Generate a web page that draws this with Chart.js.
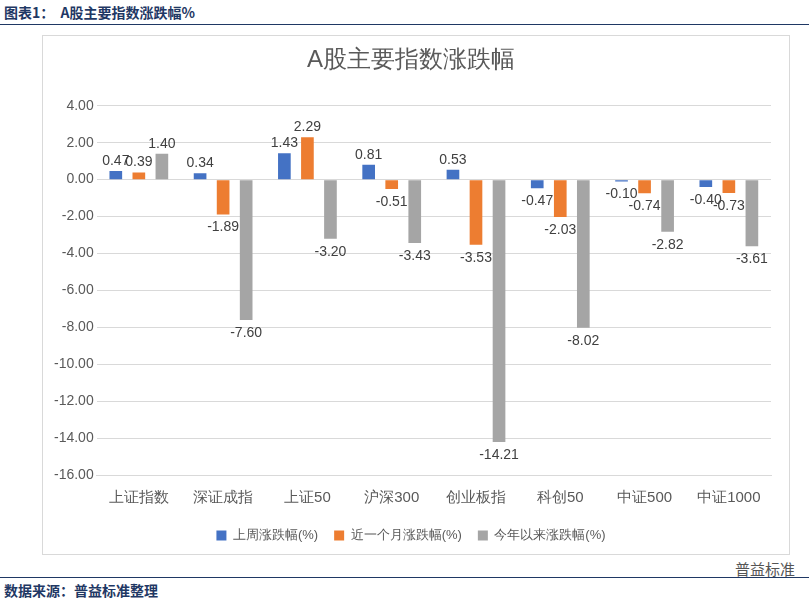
<!DOCTYPE html>
<html>
<head>
<meta charset="utf-8">
<script src="https://cdn.jsdelivr.net/npm/chart.js@4"></script>
<style>
  body { margin: 0; width: 809px; height: 606px; background: #fff; font-family: "Noto Sans CJK SC", sans-serif; position: relative; overflow: hidden; }
  #title { position: absolute; left: 4px; top: 2px; font-size: 14px; font-weight: bold; color: #1f3864; }
  #topline { position: absolute; left: 0; top: 24px; width: 809px; border-top: 1px solid #1f3864; }
  #box { position: absolute; left: 42px; top: 35px; width: 746px; height: 518px; border: 1px solid #d9d9d9; }
  #bottomline { position: absolute; left: 0; top: 577px; width: 809px; border-top: 1px solid #1f3864; }
  #source { position: absolute; left: 4px; top: 580px; font-size: 14px; font-weight: bold; color: #1f3864; }
  #mark { position: absolute; right: 14px; top: 558px; font-size: 15px; color: #555; }
</style>
</head>
<body>
<div id="title">图表1：&nbsp; A股主要指数涨跌幅%</div>
<div id="topline"></div>
<div id="box"><canvas id="c" width="746" height="518"></canvas></div>
<div id="bottomline"></div>
<div id="source">数据来源：普益标准整理</div>
<div id="mark">普益标准</div>
<script>
// Data
const categories = ['上证指数', '深证成指', '上证50', '沪深300', '创业板指', '科创50', '中证500', '中证1000'];
const weekly = [0.47, 0.34, 1.43, 0.81, 0.53, -0.47, -0.10, -0.40];
const monthly = [0.39, -1.89, 2.29, -0.51, -3.53, -2.03, -0.74, -0.73];
const ytd = [1.40, -7.60, -3.20, -3.43, -14.21, -8.02, -2.82, -3.61];
const seriesNames = ['上周涨跌幅(%)', '近一个月涨跌幅(%)', '今年以来涨跌幅(%)'];
const colors = ['#4472C4', '#ED7D31', '#A5A5A5'];

// Draw value labels beyond bar ends
const valueLabels = {
  id: 'valueLabels',
  afterDatasetsDraw(chart) {
    const ctx = chart.ctx;
    ctx.save();
    ctx.font = '14px "Liberation Sans", sans-serif';
    ctx.fillStyle = '#404040';
    ctx.textAlign = 'center';
    chart.data.datasets.forEach((ds, i) => {
      chart.getDatasetMeta(i).data.forEach((bar, j) => {
        const v = ds.data[j];
        ctx.textBaseline = v >= 0 ? 'bottom' : 'top';
        ctx.fillText(v.toFixed(2), bar.x, v >= 0 ? bar.y - 3 : bar.y + 6);
      });
    });
    ctx.restore();
  }
};

new Chart(document.getElementById('c'), {
  type: 'bar',
  data: {
    labels: categories,
    datasets: [weekly, monthly, ytd].map((d, i) => ({
      label: seriesNames[i], data: d, backgroundColor: colors[i],
      barPercentage: 0.55, categoryPercentage: 0.82
    }))
  },
  options: {
    responsive: false,
    animation: false,
    layout: { padding: { left: 8, right: 18, top: 0, bottom: 2 } },
    plugins: {
      title: { display: true, text: 'A股主要指数涨跌幅', color: '#595959', font: { size: 24, weight: 'normal' }, padding: { top: 10, bottom: 31 } },
      legend: { position: 'bottom', labels: { boxWidth: 10, boxHeight: 10, color: '#595959', font: { size: 13 }, padding: 16 } },
      tooltip: { enabled: false }
    },
    scales: {
      y: {
        min: -16, max: 4,
        ticks: { stepSize: 2, color: '#595959', font: { size: 14, family: '"Liberation Sans", sans-serif' }, callback: v => v.toFixed(2) },
        grid: { color: '#d9d9d9', drawTicks: false },
        border: { display: false }
      },
      x: {
        position: 'bottom',
        ticks: { color: '#595959', font: { size: 15 }, padding: 6 },
        grid: { display: false },
        border: { color: '#d9d9d9' }
      }
    }
  },
  plugins: [valueLabels]
});
</script>
</body>
</html>
